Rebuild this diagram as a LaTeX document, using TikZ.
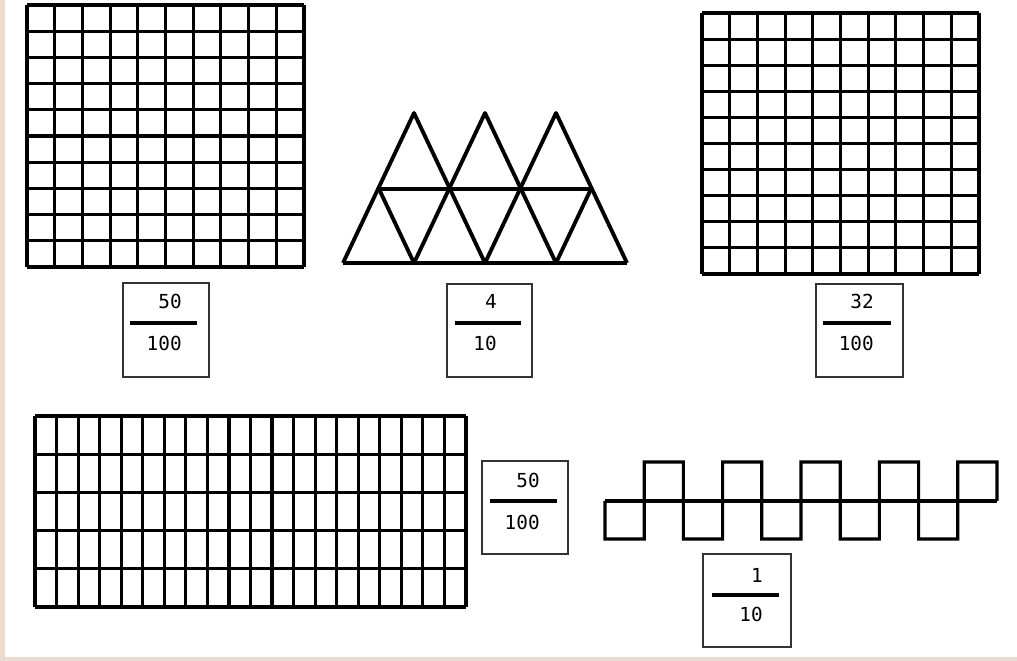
\documentclass[tikz,border=0pt]{standalone}
\usepackage{fontspec}
\usepackage{tikz}
\newfontfamily\digitfont{DejaVu Sans Mono}
\definecolor{edgepink}{RGB}{240,218,206}
\tikzstyle{gridline} = [line width=1.8pt]
\tikzstyle{triline} = [line width=2.2pt,line join=round]
\tikzstyle{fracbox} = [draw=black!80,line width=0.8pt]
\tikzstyle{fracbar} = [line width=1.8pt]
\tikzstyle{digits} = [inner sep=0pt,anchor=east,font=\digitfont\fontsize{11}{12}\selectfont]

\begin{document}
\begin{tikzpicture}[x=0.02cm,y=-0.02cm]
\useasboundingbox (0,0) rectangle (1017,661);
\fill[white] (0,0) rectangle (1017,661);
\fill[edgepink] (0,0) rectangle (5,661);
\fill[edgepink] (0,657) rectangle (1017,661);

% hundred grid, top left
\foreach \i in {0,...,10} {
  \draw[gridline] ({27+\i*27.7},5) -- ({27+\i*27.7},267);
  \draw[gridline] (27,{5+\i*26.2}) -- (304,{5+\i*26.2});
}
\draw[fracbox] (123,283) rectangle (209,377);
\draw(182,301) node[digits] (n1) {50};
\draw(182,343) node[digits] (d1) {100};
\draw[fracbar] (130,323) -- (197,323);

% triangles
\draw[triline] (343,263) -- (414,113) -- (485,263);
\draw[triline] (414,263) -- (485,113) -- (556,263);
\draw[triline] (485,263) -- (556,113) -- (627,263);
\draw[triline] (379,189) -- (414,263);
\draw[triline] (591,189) -- (556,263);
\draw[triline] (379,189) -- (591,189);
\draw[triline] (343,263) -- (627,263);
\draw[fracbox] (447,284) rectangle (532,377);
\draw(497,301) node[digits] (n2) {4};
\draw(497,343) node[digits] (d2) {10};
\draw[fracbar] (455,323) -- (521,323);

% hundred grid, top right
\foreach \i in {0,...,10} {
  \draw[gridline] ({702+\i*27.7},13) -- ({702+\i*27.7},274);
  \draw[gridline] (702,{13+\i*26.1}) -- (979,{13+\i*26.1});
}
\draw[fracbox] (816,284) rectangle (903,377);
\draw(874,301) node[digits] (n3) {32};
\draw(874,343) node[digits] (d3) {100};
\draw[fracbar] (823,323) -- (891,323);

% twenty by five grid
\foreach \i in {0,...,20}
  \draw[gridline] ({35+\i*21.55},416) -- ({35+\i*21.55},607);
\foreach \j in {0,...,5}
  \draw[gridline] (35,{416+\j*38.2}) -- (466,{416+\j*38.2});
\draw[fracbox] (482,461) rectangle (568,554);
\draw(540,480) node[digits] (n4) {50};
\draw(540,522) node[digits] (d4) {100};
\draw[fracbar] (490,501) -- (557,501);

% strip of ten squares
\draw[gridline] (605,501) -- (997,501);
\draw[gridline,line join=miter] (605,501) -- (605,539)
  \foreach \k in {0,...,4} {
    -- ({605+(2*\k+1)*39.2},539) -- ({605+(2*\k+1)*39.2},462)
    -- ({605+(2*\k+2)*39.2},462)
    \ifnum\k<4 -- ({605+(2*\k+2)*39.2},539)\fi
  } -- (997,501);
\draw[fracbox] (703,554) rectangle (791,647);
\draw(763,575) node[digits] (n5) {1};
\draw(763,614) node[digits] (d5) {10};
\draw[fracbar] (712,595) -- (779,595);

\end{tikzpicture}
\end{document}
